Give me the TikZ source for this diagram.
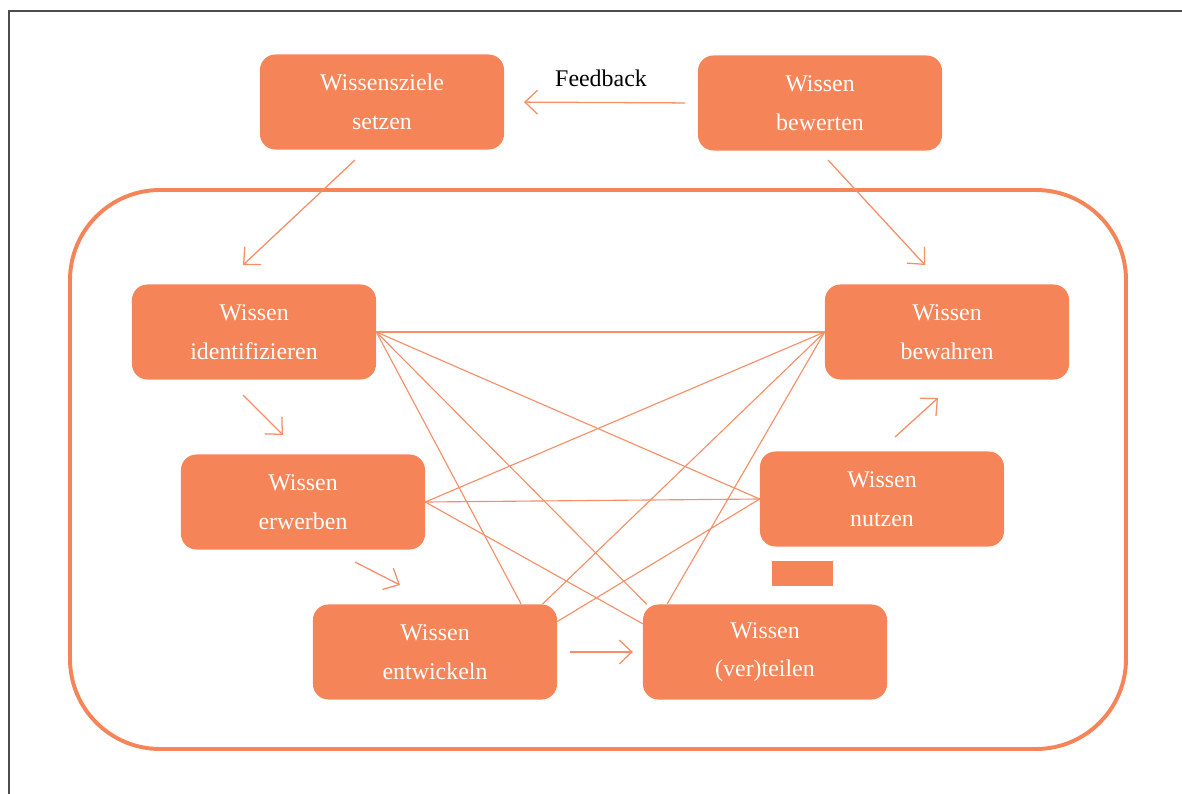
\documentclass[tikz,border=0pt]{standalone}
\usepackage{fontspec}
\setmainfont{Liberation Serif}
\usetikzlibrary{arrows.meta}
\definecolor{wmorange}{RGB}{245,133,88}
\definecolor{wmline}{RGB}{246,142,102}

\begin{document}
\begin{tikzpicture}[x=0.025cm, y=-0.025cm,
  task/.style={rectangle, rounded corners=11pt, fill=wmorange, text=white,
    minimum width=6.1cm, minimum height=2.375cm, align=center,
    font=\fontsize{17}{27.5}\selectfont},
  link/.style={draw=wmline, line width=0.8pt},
  flow/.style={draw=wmline, line width=0.9pt,
    -{Straight Barb[length=9pt,width=17pt]}}]
  \useasboundingbox (0,0) rectangle (1182,794);
  % Frame and outer loop
  \draw[line width=1pt, black!70] (9,794) -- (9,11) -- (1182,11);
  \draw[wmorange, line width=2.8pt, rounded corners=64pt] (70,190) rectangle (1126,749);
  % Define nodes
  \node[task] (ziel)   at (382,102) {Wissensziele\\setzen};
  \node[task] (bewert) at (820,103) {Wissen\\bewerten};
  \node[task] (ident)  at (254,332) {Wissen\\identifizieren};
  \node[task] (bewahr) at (947,332) {Wissen\\bewahren};
  \node[task] (erwerb) at (303,502) {Wissen\\erwerben};
  \node[task] (nutz)   at (882,499) {Wissen\\nutzen};
  \node[task] (entw)   at (435,652) {Wissen\\entwickeln};
  \node[task] (teil)   at (765,652) {Wissen\\(ver)teilen};
  \fill[wmorange] (772,561) rectangle (833,586);
  % Free arrow ends
  \coordinate (z1) at (355,160);  \coordinate (z2) at (243,265);
  \coordinate (b1) at (828,160);  \coordinate (b2) at (925,265);
  \coordinate (i1) at (243,395);  \coordinate (i2) at (283,435);
  \coordinate (e1) at (355,562);  \coordinate (e2) at (400,585);
  \coordinate (n1) at (895,437);  \coordinate (n2) at (938,398);
  % Connect nodes
  \draw[flow, shorten <=9pt, shorten >=14pt] (bewert.west) -- (ziel.east)
    node[pos=0.5, above=7.5pt, text=black, font=\fontsize{17}{20}\selectfont] {Feedback};
  \draw[flow] (z1) -- (z2);
  \draw[flow] (b1) -- (b2);
  \draw[flow] (i1) -- (i2);
  \draw[flow] (e1) -- (e2);
  \draw[flow] (n1) -- (n2);
  \draw[flow, shorten <=9pt, shorten >=7pt] (entw.east) -- (teil.west);
  \draw[link] (ident.east) -- (bewahr.west);
  \draw[link] (ident.east) -- (nutz.west);
  \draw[link] (ident.east) -- (teil.158);
  \draw[link] (ident.east) -- (entw.29);
  \draw[link] (erwerb.east) -- (bewahr.west);
  \draw[link] (erwerb.east) -- (nutz.west);
  \draw[link] (erwerb.east) -- (teil.167);
  \draw[link] (entw.24) -- (bewahr.west);
  \draw[link] (entw.14) -- (nutz.west);
  \draw[link] (teil.154) -- (bewahr.west);
\end{tikzpicture}
\end{document}
